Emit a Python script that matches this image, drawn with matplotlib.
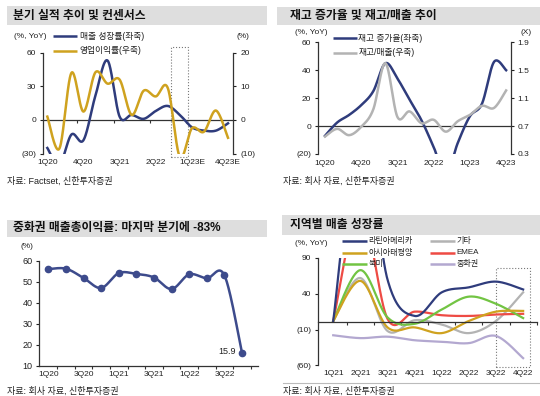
import numpy as np
import matplotlib
matplotlib.use('Agg')
import matplotlib.pyplot as plt
from matplotlib.lines import Line2D
from matplotlib.patches import Rectangle
from matplotlib.ticker import FuncFormatter

plt.rcParams['font.family'] = ['Liberation Sans', 'Noto Sans CJK KR', 'DejaVu Sans']

# ---------------- data ----------------
quarters1 = ['1Q20', '2Q20', '3Q20', '4Q20', '1Q21', '2Q21', '3Q21', '4Q21',
             '1Q22', '2Q22', '3Q22', '4Q22', '1Q23E', '2Q23E', '3Q23E', '4Q23E']
sales_growth = [-25, -40, -13, -18, 22, 53, 3, 4.5, 1, 8, 12.5, 4.5, -6.5, -9.5, -9.5, -3]
op_margin = [1, -8.5, 14, 2.5, 14.2, 10.8, 12, 1.5, 8.7, 7, 9.5, -11, -2.5, -3.5, 2.8, -5.3]

quarters2 = ['1Q20', '2Q20', '3Q20', '4Q20', '1Q21', '2Q21', '3Q21', '4Q21',
             '1Q22', '2Q22', '3Q22', '4Q22', '1Q23', '2Q23', '3Q23', '4Q23']
inv_growth = [-7, 2.5, 8, 15, 25, 45, 34, 19, 4, -15, -35, -12, 7, 16, 46, 40]
inv_sales = [0.55, 0.66, 0.57, 0.69, 0.94, 1.6, 0.83, 0.91, 0.74, 0.79, 0.62, 0.77,
             0.86, 0.99, 0.96, 1.21]

quarters3 = ['1Q20', '2Q20', '3Q20', '4Q20', '1Q21', '2Q21', '3Q21', '4Q21',
             '1Q22', '2Q22', '3Q22', '4Q22']
china_gm = [56, 56.2, 51.8, 47, 54.1, 53.7, 52, 46.5, 53.5, 51.6, 53, 15.9]

quarters4 = ['1Q21', '2Q21', '3Q21', '4Q21', '1Q22', '2Q22', '3Q22', '4Q22']
latam = [2, 280, 60, 9, 42, 49, 57, 46]
apac = [2, 58, -7, -7, -15, 2, 15, 16]
north_am = [2, 73, 7, -2, 18, 36, 26, 6]
other = [2, 62, -12, 3, -3, -15, 2, 42]
emea = [2, 160, 5, 15, 10, 9, 11, 12]
china = [-18, -22, -20, -25, -27, -29, -19, -50]

# ---------------- style ----------------
NAVY = '#2F3C7C'
NAVY3 = '#3D4B8C'
GOLD = '#CFA21F'
GRAY = '#B3B3B3'
GREEN = '#72C443'
RED = '#EE4B44'
LAV = '#B3A8D0'
BAR = '#DEDEDE'
TXT = '#222222'
SPINE = '#333333'

W, H = 540, 396
fig = plt.figure(figsize=(W / 100, H / 100), dpi=100)


def px_ax(x0, y0, x1, y1):
    return fig.add_axes([x0 / W, 1 - y1 / H, (x1 - x0) / W, (y1 - y0) / H])


def title_bar(x0, y0, x1, y1, text, tx):
    fig.add_artist(Rectangle((x0 / W, 1 - y1 / H), (x1 - x0) / W, (y1 - y0) / H,
                             transform=fig.transFigure, facecolor=BAR, edgecolor='none'))
    fig.text(tx / W, 1 - (y0 + y1) / 2 / H, text, fontsize=8.5, fontweight='bold',
             va='center', ha='left', color='#111111')


def ftext(x, y, s, ha='left', fs=6):
    fig.text(x / W, 1 - y / H, s, ha=ha, va='center', fontsize=fs, color=TXT)


def legend_line(x0, x1, y, color, label, lw=1.8, gap=2.5, fs=5.5):
    fig.add_artist(Line2D([x0 / W, x1 / W], [1 - y / H] * 2, transform=fig.transFigure,
                          color=color, lw=lw, solid_capstyle='butt'))
    ftext(x1 + gap, y, label, fs=fs)


def smooth(xs, ys, n=40):
    p = np.column_stack([np.asarray(xs, float), np.asarray(ys, float)])
    m = len(p)
    out = []
    t = np.linspace(0, 1, n)[:, None]
    for i in range(m - 1):
        p0 = p[max(i - 1, 0)]
        p1 = p[i]
        p2 = p[i + 1]
        p3 = p[min(i + 2, m - 1)]
        c1 = p1 + (p2 - p0) / 6
        c2 = p2 - (p3 - p1) / 6
        b = ((1 - t) ** 3) * p1 + 3 * ((1 - t) ** 2) * t * c1 + 3 * (1 - t) * t ** 2 * c2 + t ** 3 * p2
        out.append(b if i == 0 else b[1:])
    b = np.vstack(out)
    return b[:, 0], b[:, 1]


neg_fmt = FuncFormatter(lambda v, p: f'({abs(v):g})' if v < 0 else f'{v:g}')


def style_y(ax, side='left', fs=6):
    ax.tick_params(axis='y', direction='out', length=2.5, width=0.8, labelsize=fs,
                   pad=2.5, colors=TXT)
    ax.spines[side].set_color(SPINE)
    ax.spines[side].set_linewidth(0.9)


def bottom_labels(ax, positions, labels, pad, fs=6):
    sec = ax.secondary_xaxis('bottom')
    sec.set_xticks(positions)
    sec.set_xticklabels(labels)
    sec.tick_params(length=0, labelsize=fs, pad=pad, colors=TXT)
    sec.spines['bottom'].set_visible(False)
    return sec


# ================= Panel 1 =================
title_bar(7, 6, 267, 25, '분기 실적 추이 및 컨센서스', 13)
ax1 = px_ax(43, 52.7, 233.3, 153.6)
x1 = np.arange(len(quarters1))
ax1.set_xlim(-0.36, 15.44)
ax1.set_ylim(-30, 60)
ax1r = ax1.twinx()
ax1r.set_ylim(-10, 20)
sx, sy = smooth(x1, sales_growth)
ax1.plot(sx, sy, color=NAVY, lw=1.8, zorder=3)
gx, gy = smooth(x1, op_margin)
ax1r.plot(gx, gy, color=GOLD, lw=1.8)
for s in ['top', 'right']:
    ax1.spines[s].set_visible(False)
for s in ['top', 'left', 'bottom']:
    ax1r.spines[s].set_visible(False)
ax1.spines['bottom'].set_position(('data', 0))
ax1.spines['bottom'].set_color(SPINE)
ax1.spines['bottom'].set_linewidth(0.9)
ax1.set_yticks([-30, 0, 30, 60])
ax1.yaxis.set_major_formatter(neg_fmt)
ax1r.set_yticks([-10, 0, 10, 20])
ax1r.yaxis.set_major_formatter(neg_fmt)
style_y(ax1, 'left')
style_y(ax1r, 'right')
ax1.set_xticks([2.5, 5.5, 8.5, 11.5, 14.5])
ax1.set_xticklabels([])
ax1.tick_params(axis='x', direction='out', length=2.5, width=0.8, color=SPINE)
bottom_labels(ax1, x1[::3], [quarters1[i] for i in x1[::3]], pad=4.2)
ax1.add_patch(Rectangle((10.24, -33), 1.41, 98.4, fill=False, ls=':', lw=0.8,
                        ec='#777777', clip_on=False))
ftext(30, 36, '(%, YoY)', ha='center')
ftext(242.5, 36, '(%)', ha='center')
legend_line(53, 77, 36.3, NAVY, '매출 성장률(좌축)', fs=6.3)
legend_line(53, 77, 50.7, GOLD, '영업이익률(우축)', fs=6.3)
ftext(7, 181.7, '자료: Factset, 신한투자증권', fs=6.5)

# ================= Panel 2 =================
title_bar(277.3, 6.7, 540, 25, '재고 증가율 및 재고/매출 추이', 290)
ax2 = px_ax(318.3, 42.3, 510.7, 154)
x2 = np.arange(len(quarters2))
ax2.set_xlim(-0.555, 15.38)
ax2.set_ylim(-20, 60)
ax2r = ax2.twinx()
ax2r.set_ylim(0.3, 1.9)
sx, sy = smooth(x2, inv_growth)
ax2.plot(sx, sy, color=NAVY, lw=1.8, zorder=3)
gx, gy = smooth(x2, inv_sales)
ax2r.plot(gx, gy, color=GRAY, lw=1.8)
for s in ['top', 'right']:
    ax2.spines[s].set_visible(False)
for s in ['top', 'left', 'bottom']:
    ax2r.spines[s].set_visible(False)
ax2.spines['bottom'].set_position(('data', 0))
ax2.spines['bottom'].set_color(SPINE)
ax2.spines['bottom'].set_linewidth(0.9)
ax2.set_yticks([-20, 0, 20, 40, 60])
ax2.yaxis.set_major_formatter(neg_fmt)
ax2r.set_yticks([0.3, 0.7, 1.1, 1.5, 1.9])
ax2r.yaxis.set_major_formatter(FuncFormatter(lambda v, p: f'{v:.1f}'))
style_y(ax2, 'left')
style_y(ax2r, 'right')
ax2.set_xticks([])
bottom_labels(ax2, x2[::3], [quarters2[i] for i in x2[::3]], pad=4.2)
ftext(311.7, 33, '(%, YoY)', ha='center')
ftext(526, 33, '(X)', ha='center')
legend_line(333, 357, 38.3, NAVY, '재고 증가율(좌축)', gap=1.5, fs=6.3)
legend_line(333, 357, 52.7, GRAY, '재고/매출(우축)', gap=1.5, fs=6.3)
ftext(283, 181.7, '자료: 회사 자료, 신한투자증권', fs=6.5)

# ================= Panel 3 =================
title_bar(7, 219.7, 267, 237.3, '중화권 매출총이익률: 마지막 분기에 -83%', 13)
ax3 = px_ax(39.3, 260.7, 258.3, 365.7)
x3 = np.arange(len(quarters3))
ax3.set_xlim(-0.51, 11.92)
ax3.set_ylim(10, 60)
sx, sy = smooth(x3, china_gm)
ax3.plot(sx, sy, color=NAVY3, lw=1.8)
ax3.plot(x3, china_gm, 'o', color=NAVY3, ms=4.5)
ax3.annotate(f'{china_gm[-1]:.1f}', (x3[-1], china_gm[-1]), xytext=(-4.5, 1.5),
             textcoords='offset points', ha='right', va='center', fontsize=6.5, color=TXT)
for s in ['top', 'right']:
    ax3.spines[s].set_visible(False)
for s in ['left', 'bottom']:
    ax3.spines[s].set_color(SPINE)
    ax3.spines[s].set_linewidth(0.9)
ax3.set_yticks([10, 20, 30, 40, 50, 60])
style_y(ax3, 'left', fs=6.5)
ax3.set_xticks(x3[::2])
ax3.set_xticklabels([quarters3[i] for i in x3[::2]])
ax3.set_xticks(np.arange(0.5, 12, 1), minor=True)
ax3.tick_params(axis='x', which='major', length=0, labelsize=6, pad=3.5, colors=TXT)
ax3.tick_params(axis='x', which='minor', length=2.5, width=0.8, direction='out', color=SPINE)
ftext(27, 246.3, '(%)', ha='center')
ftext(7, 391.3, '자료: 회사 자료, 신한투자증권', fs=6.5)

# ================= Panel 4 =================
title_bar(281.7, 214.7, 540, 235.3, '지역별 매출 성장률', 290)
ax4 = px_ax(318.3, 258, 536.7, 365.3)
x4 = np.arange(len(quarters4))
ax4.set_xlim(-0.55, 7.5)
ax4.set_ylim(-60, 90)
for series, col in [(china, LAV), (other, GRAY), (emea, RED), (north_am, GREEN),
                    (apac, GOLD), (latam, NAVY)]:
    sx, sy = smooth(x4, series)
    ax4.plot(sx, sy, color=col, lw=1.6)
for s in ['top', 'right']:
    ax4.spines[s].set_visible(False)
ax4.spines['bottom'].set_position(('data', 0))
for s in ['left', 'bottom']:
    ax4.spines[s].set_color(SPINE)
    ax4.spines[s].set_linewidth(0.9)
ax4.set_yticks([-60, -10, 40, 90])
ax4.yaxis.set_major_formatter(neg_fmt)
style_y(ax4, 'left')
ax4.set_xticks(np.arange(0.5, 8, 1))
ax4.set_xticklabels([])
ax4.tick_params(axis='x', direction='out', length=2.5, width=0.8, color=SPINE)
bottom_labels(ax4, x4, quarters4, pad=3.5)
ax4.add_patch(Rectangle((6.0, -62), 1.26, 137.6, fill=False, ls=':', lw=0.8,
                        ec='#777777', clip_on=False))
ftext(311.7, 243.7, '(%, YoY)', ha='center')
legend_line(341.7, 366.7, 241, NAVY, '라틴아메리카', gap=1.5, fs=5.8)
legend_line(341.7, 366.7, 252.5, GOLD, '아시아태평양', gap=1.5, fs=5.8)
legend_line(341.7, 366.7, 264, GREEN, '북미', gap=1.5, fs=5.8)
legend_line(430, 455, 241, GRAY, '기타', gap=1.5, fs=5.8)
legend_line(430, 455, 252.5, RED, 'EMEA', gap=1.5, fs=5.8)
legend_line(430, 455, 264, LAV, '중화권', gap=1.5, fs=5.8)
fig.add_artist(Line2D([283 / W, 540 / W], [1 - 383 / H] * 2, transform=fig.transFigure,
                      color='#BBBBBB', lw=0.8))
ftext(283.3, 391.3, '자료: 회사 자료, 신한투자증권', fs=6.5)

fig.savefig('out.png', dpi=100, facecolor='white')
